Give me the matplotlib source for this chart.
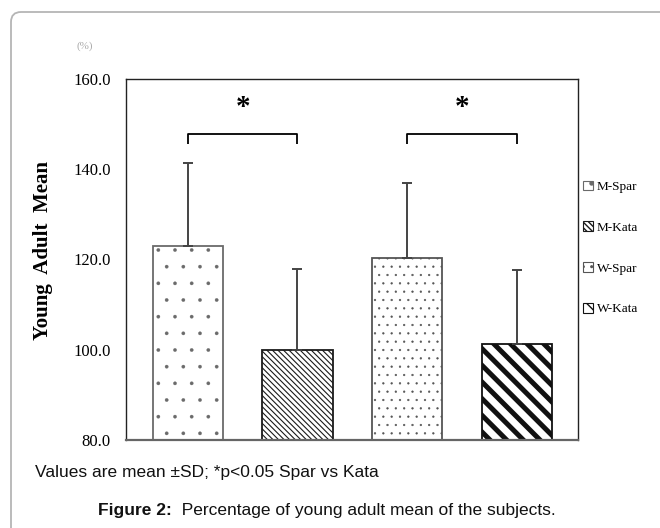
import matplotlib
matplotlib.use("Agg")
import matplotlib.pyplot as plt
from matplotlib.patches import FancyBboxPatch, Patch

# ---------------------------------------------------------------------------
# Data
# ---------------------------------------------------------------------------
groups = ["M-Spar", "M-Kata", "W-Spar", "W-Kata"]
means = [123.0, 100.0, 120.3, 101.2]
sds = [18.4, 18.0, 16.6, 16.4]
hatches = [".", "\\\\\\\\\\\\", "..", "\\\\"]
edge_colors = ["#6a6a6a", "#1a1a1a", "#555555", "#111111"]
hatch_widths = [0.2, 0.8, 0.4, 3.6]
sig_pairs = [(0, 1), (2, 3)]
sig_labels = ["*", "*"]
yticks = [80, 100, 120, 140, 160]
ytick_labels = ["80.0", "100.0", "120.0", "140.0", "160.0"]

SERIF = ["Liberation Serif", "DejaVu Serif"]
SANS = ["Liberation Sans", "DejaVu Sans"]

fig = plt.figure(figsize=(6.6, 5.28), dpi=100)

# background frame (pixel coordinates)
bg = fig.add_axes([0, 0, 1, 1], zorder=-1)
bg.set_xlim(0, 660)
bg.set_ylim(528, 0)
bg.axis("off")
bg.add_patch(FancyBboxPatch((11, 12), 700, 600,
                            boxstyle="round,pad=0,rounding_size=10",
                            facecolor="white", edgecolor="#b5b5b5", lw=1.3))

ax = fig.add_axes([0.1909, 0.1667, 0.6848, 0.6837])
x = list(range(len(groups)))

bars = ax.bar(x, [m - 80 for m in means], bottom=80, width=0.64,
              color="white", edgecolor=edge_colors, linewidth=1.3, zorder=2)
for b, h, hw in zip(bars, hatches, hatch_widths):
    b.set_hatch(h)
    if hasattr(b, "set_hatch_linewidth"):
        b.set_hatch_linewidth(hw)

ax.errorbar(x, means, yerr=[[0] * len(sds), sds], fmt="none",
            ecolor="#444444", elinewidth=1.4, capsize=3.5, capthick=1.4,
            zorder=3)

# significance brackets
for (i, j), lab in zip(sig_pairs, sig_labels):
    top = 147.7
    ax.plot([i, i, j, j], [145.6, top, top, 145.6], color="black",
            lw=1.3, solid_capstyle="butt", zorder=3)
    ax.text((i + j) / 2, 153.6, lab, ha="center", va="center",
            fontsize=21, fontweight="bold", family=SERIF)

ax.set_xlim(-0.565, 3.56)
ax.set_ylim(80, 160)
ax.set_xticks([])
ax.set_yticks(yticks)
ax.set_yticklabels(ytick_labels, family=SERIF, fontsize=12)
ax.tick_params(axis="y", length=0, pad=11)
for side, sp in ax.spines.items():
    sp.set_color("#222222")
    sp.set_linewidth(1.0)
ax.spines["bottom"].set_color("#666666")
ax.spines["bottom"].set_linewidth(1.6)

ax.set_ylabel("Young  Adult  Mean", family=SERIF, fontsize=15,
              fontweight="bold")
ax.yaxis.set_label_coords(-0.162, 0.524)

handles = [Patch(facecolor="white", edgecolor=ec, hatch=h, lw=0.8)
           for h, ec in zip(hatches, edge_colors)]
fig.legend(handles, groups, loc="upper left",
           bbox_to_anchor=(0.875, 0.668), frameon=False,
           prop={"family": SERIF, "size": 9.5}, handlelength=0.75,
           handleheight=0.75, handletextpad=0.3, labelspacing=2.15,
           borderaxespad=0)

# small unit mark above the axis
bg.text(85, 46, "(%)", ha="center", va="center", fontsize=8,
        color="#aaaaaa", family=SERIF)

# captions
bg.text(35, 472, "Values are mean \u00b1SD; *p<0.05 Spar vs Kata",
        ha="left", va="center", fontsize=12.5, family=SANS, color="#111111")
t1 = bg.text(98, 510, "Figure 2:", ha="left", va="center", fontsize=12.5,
             family=SANS, fontweight="bold", color="#111111")
bg.annotate("  Percentage of young adult mean of the subjects.",
            xycoords=t1, xy=(1, 0.5), va="center", ha="left",
            fontsize=12.5, family=SANS, color="#111111")

fig.savefig("out.png", dpi=100)
